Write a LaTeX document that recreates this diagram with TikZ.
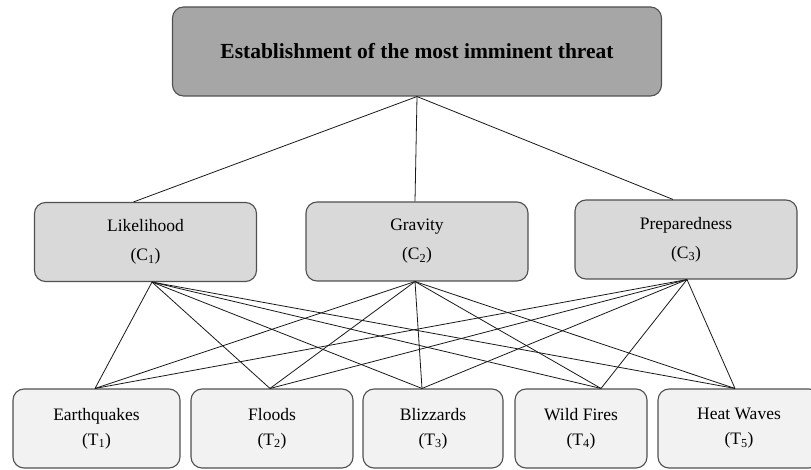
\documentclass[tikz,border=0pt]{standalone}
\usepackage{fontspec}
\setmainfont{Liberation Serif}
\definecolor{goalgray}{HTML}{A6A6A6}
\definecolor{critgray}{HTML}{D9D9D9}
\definecolor{altgray}{HTML}{F2F2F2}
\definecolor{edgegray}{HTML}{505050}
\tikzset{
  goalbox/.style={draw=edgegray, line width=1.1pt, fill=goalgray, rounded corners=11pt, align=center,
    font=\fontsize{21.5}{26}\selectfont\bfseries},
  critbox/.style={draw=edgegray, line width=1.1pt, fill=critgray, rounded corners=11pt, align=center,
    minimum width=222pt, minimum height=79pt, font=\fontsize{17.5}{29}\selectfont},
  altbox/.style={draw=edgegray, line width=1.1pt, fill=altgray, rounded corners=11pt, align=center,
    minimum height=79pt, font=\fontsize{17.5}{25}\selectfont},
  link/.style={draw=black!90, line width=0.8pt}
}
\begin{document}
\begin{tikzpicture}[x=1pt,y=-1pt]
\useasboundingbox (0,0) rectangle (811,470);
\clip (0,0) rectangle (811,470);
%Shape: Rounded Rect [goal]
\node [goalbox, minimum width=489pt, minimum height=89pt] (goal) at (417,51.5) {Establishment of the most imminent threat};
%Shape: Rounded Rect [criteria]
\node [critbox] (c1) at (145.5,242) {Likelihood\\(C\textsubscript{1})};
\node [critbox] (c2) at (417,241.5) {Gravity\\(C\textsubscript{2})};
\node [critbox] (c3) at (686,239.5) {Preparedness\\(C\textsubscript{3})};
%Shape: Rounded Rect [threats]
\node [altbox, minimum width=167pt] (t1) at (96.5,428.5) {Earthquakes\\(T\textsubscript{1})};
\node [altbox, minimum width=162pt] (t2) at (272,428.5) {Floods\\(T\textsubscript{2})};
\node [altbox, minimum width=140pt] (t3) at (433,428.5) {Blizzards\\(T\textsubscript{3})};
\node [altbox, minimum width=132pt] (t4) at (581,428.5) {Wild Fires\\(T\textsubscript{4})};
\node [altbox, minimum width=162pt] (t5) at (739,428.5) {Heat Waves\\(T\textsubscript{5})};
% Joints
\coordinate (c1top) at ([xshift=-12pt]c1.north);
\coordinate (c2top) at ([xshift=-2pt]c2.north);
\coordinate (c3top) at ([xshift=-13pt]c3.north);
\coordinate (c1bot) at ([xshift=6.5pt]c1.south);
\coordinate (c2bot) at ([xshift=-2pt]c2.south);
\coordinate (c3bot) at ([xshift=1pt]c3.south);
\coordinate (t1top) at ([xshift=-1.5pt]t1.north);
\coordinate (t2top) at ([xshift=-2pt]t2.north);
\coordinate (t3top) at ([xshift=-11pt]t3.north);
\coordinate (t4top) at ([xshift=20pt]t4.north);
\coordinate (t5top) at ([xshift=-4pt]t5.north);
%Straight Lines [goal to criteria]
\draw [link] (goal.south) -- (c1top);
\draw [link] (goal.south) -- (c2top);
\draw [link] (goal.south) -- (c3top);
%Straight Lines [criteria to threats]
\draw [link] (c1bot) -- (t1top);
\draw [link] (c1bot) -- (t2top);
\draw [link] (c1bot) -- (t3top);
\draw [link] (c1bot) -- (t4top);
\draw [link] (c1bot) -- (t5top);
\draw [link] (c2bot) -- (t1top);
\draw [link] (c2bot) -- (t2top);
\draw [link] (c2bot) -- (t3top);
\draw [link] (c2bot) -- (t4top);
\draw [link] (c2bot) -- (t5top);
\draw [link] (c3bot) -- (t1top);
\draw [link] (c3bot) -- (t2top);
\draw [link] (c3bot) -- (t3top);
\draw [link] (c3bot) -- (t4top);
\draw [link] (c3bot) -- (t5top);
\end{tikzpicture}
\end{document}
